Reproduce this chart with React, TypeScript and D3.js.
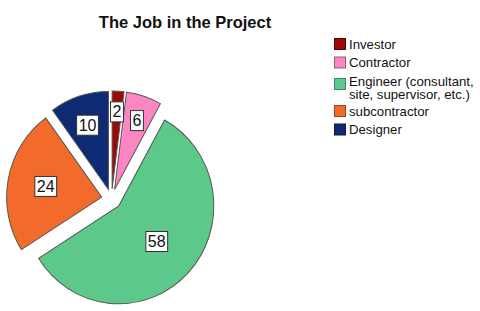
import React from "react";
import * as d3 from "d3";

const categories = ["Investor", "Contractor", "Engineer (consultant, site, supervisor, etc.)", "subcontractor", "Designer"];
const legendLines = [["Investor"], ["Contractor"], ["Engineer (consultant,", "site, supervisor, etc.)"], ["subcontractor"], ["Designer"]];
const values = [2, 6, 58, 24, 10];
const colors = ["#9a0a0a", "#fb86c3", "#5cc98b", "#f26b2b", "#0e2a72"];
const borders = ["#5a0505", "#a05a80", "#3f8a5e", "#9a4519", "#081a48"];
// where the value box sits along each slice, as a share of the radius
const labelPos = [0.9, 0.85, 0.64, 0.69, 0.8];

const W = 480;
const H = 311;
const cx = 111.5;
const cy = 199;
const r = 97;
const explode = 10;
const font = "Arial, 'Liberation Sans', sans-serif";

const App = () => {
  const pie = d3.pie<number>().sort(null).value((d) => d)(values);
  const arc = d3.arc<d3.PieArcDatum<number>>().innerRadius(0).outerRadius(r);

  let legendY = 38;
  const legendItems = legendLines.map((lines, i) => {
    const y = legendY;
    legendY += lines.length > 1 ? 30 : 18.5;
    return { lines, y, i };
  });

  return (
    <svg width={W} height={H} style={{ position: "absolute", left: 0, top: 0, background: "#fff" }}>
      <text x={185} y={28} textAnchor="middle" fontFamily={font} fontWeight="bold" fontSize={16.5} fill="#111">
        The Job in the Project
      </text>

      <g transform={`translate(${cx},${cy})`}>
        {pie.map((p, i) => {
          const mid = (p.startAngle + p.endAngle) / 2;
          const dx = Math.sin(mid) * explode;
          const dy = -Math.cos(mid) * explode;
          return (
            <g key={categories[i]} transform={`translate(${dx},${dy}) scale(0.98,1.01)`}>
              <path d={arc(p) || ""} fill={colors[i]} stroke="#555" strokeWidth={1} />
            </g>
          );
        })}
        {pie.map((p, i) => {
          const mid = (p.startAngle + p.endAngle) / 2;
          const rr = r * labelPos[i];
          const x = Math.sin(mid) * rr;
          const y = -Math.cos(mid) * rr;
          const label = String(values[i]);
          const w = label.length * 8.9 + 4;
          return (
            <g key={"l" + i} transform={`translate(${x},${y})`}>
              <rect x={-w / 2} y={-10} width={w} height={20} fill="#fff" stroke="#333" strokeWidth={1} />
              <text y={5.5} textAnchor="middle" fontFamily={font} fontSize={16} fill="#111">
                {label}
              </text>
            </g>
          );
        })}
      </g>

      {legendItems.map(({ lines, y, i }) => (
        <g key={categories[i]}>
          <rect
            x={334.5}
            y={lines.length > 1 ? y + 3.5 : y + 0.5}
            width={11}
            height={11}
            fill={colors[i]}
            stroke={borders[i]}
            strokeWidth={1}
          />
          {lines.map((t, k) => (
            <text key={k} x={349} y={y + 10.5 + k * 13.5} fontFamily={font} fontSize={13.2} fill="#111">
              {t}
            </text>
          ))}
        </g>
      ))}
    </svg>
  );
};

export default App;
